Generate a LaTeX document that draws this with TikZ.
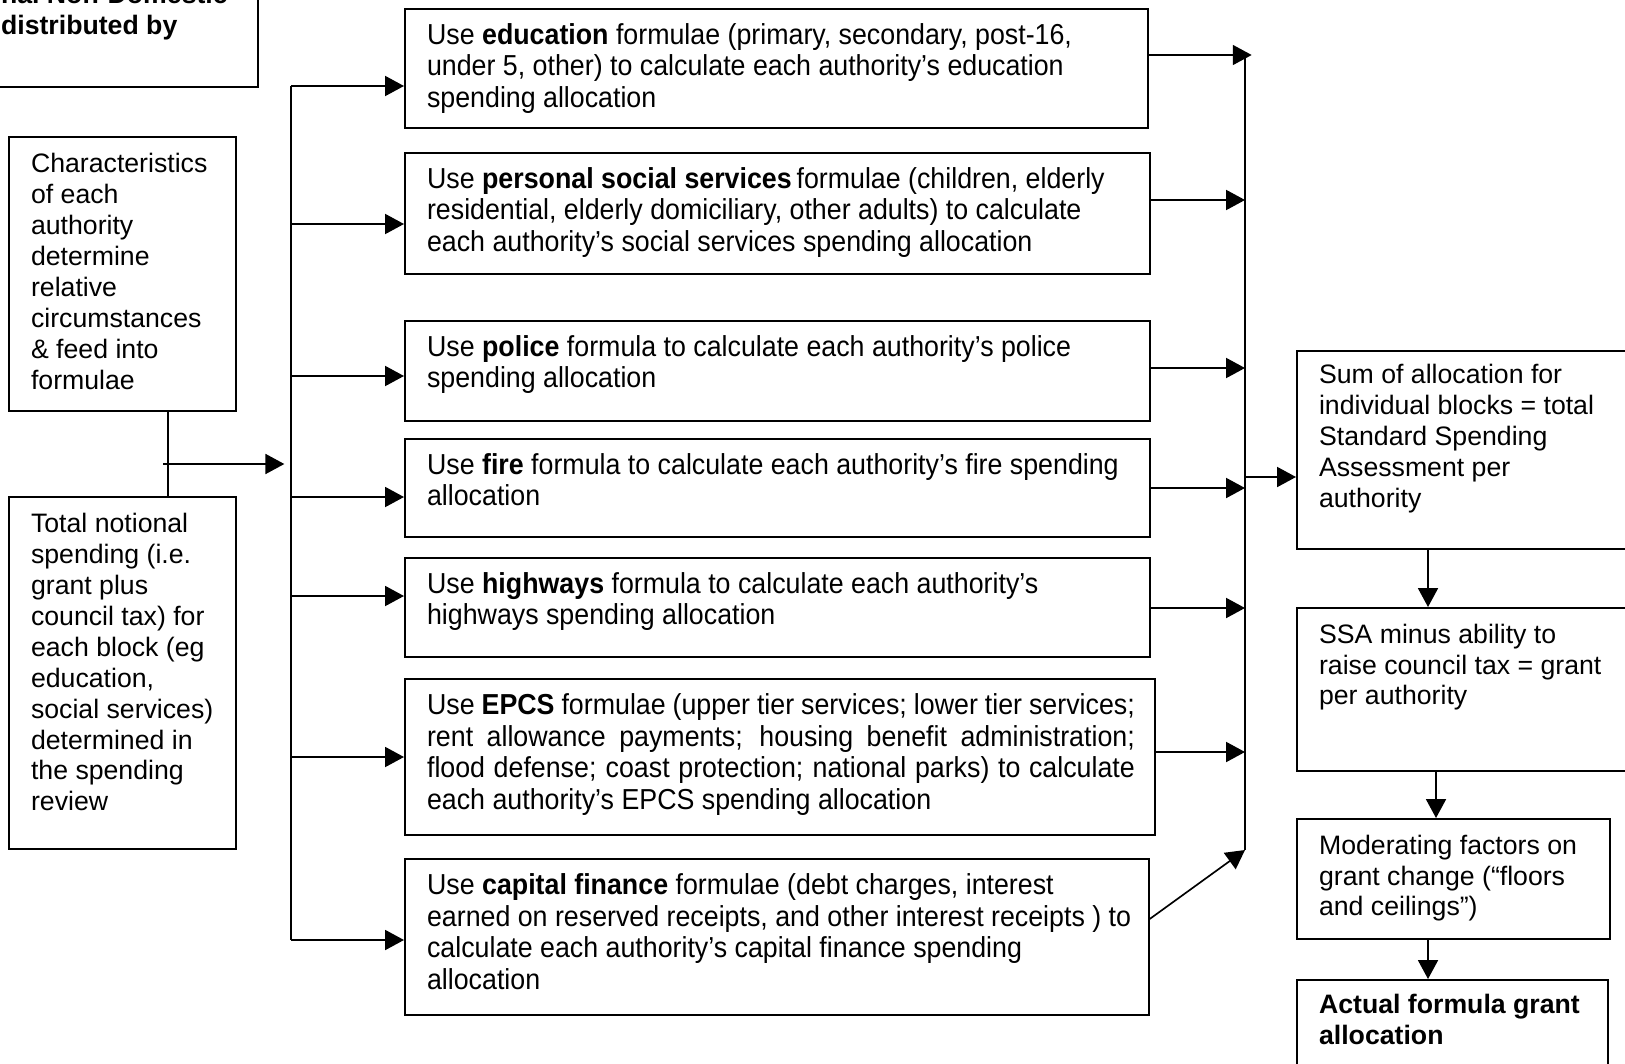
\documentclass[tikz,border=0pt]{standalone}
\usepackage{fontspec}
\setmainfont{Liberation Sans}
\newfontfamily\narrowsans[FakeStretch=0.927]{Liberation Sans}
\usetikzlibrary{arrows.meta}

\newcommand{\boxtext}[4][6.8pt]{\begin{minipage}[t][#3][t]{#2}\raggedright\leftskip=10pt\vspace*{#1}#4\end{minipage}}
\newcommand{\jline}[1]{\makebox[\dimexpr\linewidth-19pt\relax][s]{#1}}

\begin{document}
\begin{tikzpicture}[x=0.45pt, y=-0.45pt, line width=0.75pt, >={Triangle[length=8.5pt,width=9pt]},
		blk/.style={draw, anchor=north west, inner sep=0pt, font=\fontsize{12}{13.9}\selectfont},
		mid/.style={font=\narrowsans\fontsize{13}{14.2}\selectfont}]
				\useasboundingbox (0,0) rectangle (1625,1063);
				\path (-22,-40) node[blk] (nndr){\boxtext[10.5pt]{125.55pt}{56.7pt}{\bfseries nal Non-Domestic\\ distributed by}}
				(8,136) node[blk] (chars){\boxtext[7.5pt]{102.15pt}{123.3pt}{Characteristics\\ of each\\ authority\\ determine\\ relative\\ circumstances\\ \& feed into\\ formulae}}
				(8,496) node[blk] (total){\boxtext[7.5pt]{102.15pt}{158.4pt}{Total notional\\ spending (i.e.\\ grant plus\\ council tax) for\\ each block (eg\\ education,\\ social services)\\ determined in\\ the spending\\ review}};
				
				\path (404,8) node[blk, mid] (edu){\boxtext[6.6pt]{334.35pt}{53.55pt}{Use \textbf{education} formulae (primary, secondary, post-16,\\ under 5, other) to calculate each authority’s education\\ spending allocation}}
				(404,152) node[blk, mid] (pss){\boxtext[6.6pt]{335.25pt}{54.45pt}{Use \textbf{personal social services}\,formulae (children, elderly\\ residential, elderly domiciliary, other adults) to calculate\\ each authority’s social services spending allocation}}
				(404,320) node[blk, mid] (police){\boxtext[6.6pt]{335.25pt}{45pt}{Use \textbf{police} formula to calculate each authority’s police\\ spending allocation}}
				(404,438) node[blk, mid] (fire){\boxtext[6.6pt]{335.25pt}{44.1pt}{Use \textbf{fire} formula to calculate each authority’s fire spending\\ allocation}}
				(404,557) node[blk, mid] (hwy){\boxtext[6.6pt]{335.25pt}{44.55pt}{Use \textbf{highways} formula to calculate each authority’s\\ highways spending allocation}}
				(404,678) node[blk, mid] (epcs){\boxtext[6.6pt]{337.5pt}{70.2pt}{\jline{Use \textbf{EPCS} formulae (upper tier services; lower tier services;}\\ \jline{rent allowance payments; housing benefit administration;}\\ \jline{flood defense; coast protection; national parks) to calculate}\\ each authority’s EPCS spending allocation}}
				(404,858) node[blk, mid] (capfin){\boxtext[6.6pt]{334.8pt}{70.2pt}{Use \textbf{capital finance} formulae (debt charges, interest\\ earned on reserved receipts, and other interest receipts ) to\\ calculate each authority’s capital finance spending\\ allocation}};
				
				\path (1296,350) node[blk] (sum){\boxtext[6pt]{154.8pt}{89.1pt}{Sum of allocation for\\ individual blocks = total\\ Standard Spending\\ Assessment per\\ authority}}
				(1296,607) node[blk] (ssa){\boxtext[7.2pt]{154.8pt}{73.35pt}{SSA minus ability to\\ raise council tax = grant\\ per authority}}
				(1296,818) node[blk] (mod){\boxtext[7.2pt]{140.85pt}{54pt}{Moderating factors on\\ grant change (“floors\\ and ceilings”)}}
				(1296,979) node[blk] (actual){\boxtext[6.5pt]{139.95pt}{45.45pt}{\bfseries Actual formula grant\\ allocation}};
				
				\coordinate (lbtop) at (291,86);
				\coordinate (lbbot) at (291,940);
				\coordinate (rbtop) at (1245,55);
				\coordinate (rbbot) at (1245,850);
				\coordinate (feed) at (163,464);
				
				\draw (chars.south -| 168,0) -- (total.north -| 168,0);
				\draw[->, shorten >=3pt] (feed) -- (lbtop |- feed);
				\draw (lbtop) -- (lbbot);
				\foreach \b/\y in {edu/86, pss/224, police/376, fire/497, hwy/596, epcs/757, capfin/940}
					\draw[->] (lbtop |- 0,\y) -- (\b.west |- 0,\y);
				
				\draw (rbtop) -- (rbbot);
				\draw[->, shorten >=-3pt] (edu.east |- rbtop) -- (rbtop);
				\foreach \b/\y in {pss/200, police/368, fire/488, hwy/608, epcs/752}
					\draw[->] (\b.east |- 0,\y) -- (rbtop |- 0,\y);
				\draw[->] (capfin.east |- 0,919) -- (rbbot);
				\draw[->] (rbtop |- 0,477) -- (sum.west |- 0,477);
				
				\draw[->] (sum.south -| 1428,0) -- (ssa.north -| 1428,0);
				\draw[->] (ssa.south -| 1436,0) -- (mod.north -| 1436,0);
				\draw[->] (mod.south -| 1428,0) -- (actual.north -| 1428,0);
			\end{tikzpicture}
\end{document}
